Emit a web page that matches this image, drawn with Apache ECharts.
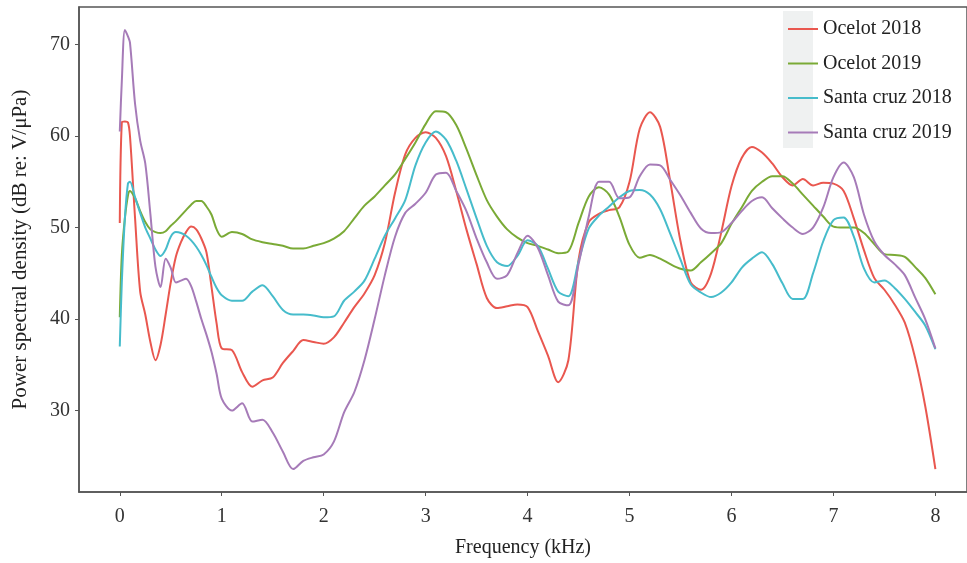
<!DOCTYPE html>
<html>
<head>
<meta charset="utf-8">
<script src="https://cdn.jsdelivr.net/npm/echarts@6/dist/echarts.min.js"></script>
<style>
  html, body { margin: 0; padding: 0; background: #fff; }
  #chart { width: 967px; height: 563px; }
</style>
</head>
<body>
<div id="chart"></div>
<script>
// frequency (kHz), denser near 0 where the peaks are sharp
const freq = [0, 0.02, 0.05, 0.08,
  0.1, 0.15, 0.2, 0.25, 0.3, 0.35, 0.4, 0.45, 0.5, 0.55, 0.6, 0.65, 0.7, 0.75, 0.8, 0.85, 0.9, 0.95, 1.0,
  1.1, 1.2, 1.3, 1.4, 1.5, 1.6, 1.7, 1.8, 1.9, 2.0,
  2.1, 2.2, 2.3, 2.4, 2.5, 2.6, 2.7, 2.8, 2.9, 3.0,
  3.1, 3.2, 3.3, 3.4, 3.5, 3.6, 3.7, 3.8, 3.9, 4.0,
  4.1, 4.2, 4.3, 4.4, 4.5, 4.6, 4.7, 4.8, 4.9, 5.0,
  5.1, 5.2, 5.3, 5.4, 5.5, 5.6, 5.7, 5.8, 5.9, 6.0,
  6.1, 6.2, 6.3, 6.4, 6.5, 6.6, 6.7, 6.8, 6.9, 7.0,
  7.1, 7.2, 7.3, 7.4, 7.5, 7.6, 7.7, 7.8, 7.9, 8.0];

const ocelot2018 = [50.5, 61.5, 61.6, 61.5,
  60.0, 51.0, 43.0, 40.5, 37.5, 35.5, 37.2, 40.5, 44.0, 46.8, 48.4, 49.5, 50.1, 49.8, 48.8, 47.3, 43.5, 39.5, 36.8,
  36.6, 34.2, 32.6, 33.3, 33.6, 35.2, 36.5, 37.7, 37.5, 37.3,
  38.0, 39.6, 41.3, 42.8, 44.8, 48.3, 53.8, 58.0, 59.8, 60.4,
  59.8, 57.8, 54.0, 49.8, 46.0, 42.3, 41.2, 41.4, 41.6, 41.3,
  38.7, 36.0, 33.1, 35.5, 46.5, 50.6, 51.5, 51.9, 52.2, 55.0,
  60.8, 62.6, 61.0, 55.0, 48.5, 44.0, 43.2, 45.0, 49.5, 54.5,
  57.6, 58.8, 58.2, 57.0, 55.5, 54.6, 55.3, 54.6, 54.9, 54.8,
  54.0, 51.0, 47.5, 44.5, 43.2, 41.6, 39.6, 35.8, 30.5, 23.6];

const ocelot2019 = [40.2, 47.0, 51.0, 53.5,
  54.0, 53.2, 51.8, 50.6, 49.8, 49.5, 49.4, 49.6, 50.2, 50.7, 51.3, 51.9, 52.5, 52.9, 52.9, 52.3, 51.4, 49.8, 49.0,
  49.5, 49.3, 48.7, 48.4, 48.2, 48.0, 47.7, 47.7, 48.0, 48.3,
  48.8, 49.6, 51.0, 52.4, 53.4, 54.6, 55.8, 57.5, 59.3, 61.3,
  62.7, 62.6, 61.2, 58.6, 55.7, 53.0, 51.2, 49.8, 48.9, 48.3,
  48.0, 47.6, 47.2, 47.4, 50.5, 53.4, 54.4, 53.6, 51.2, 48.1,
  46.7, 47.0, 46.6, 46.0, 45.5, 45.3, 46.2, 47.2, 48.3, 50.4,
  52.2, 54.0, 55.0, 55.6, 55.6, 54.8, 53.6, 52.4, 51.2, 50.1,
  50.0, 50.0, 49.4, 48.2, 47.1, 47.0, 46.8, 45.7, 44.5, 42.7];

const santaCruz2018 = [37.0, 44.0, 51.0, 54.8,
  55.0, 53.3, 51.6, 50.0, 48.8, 47.6, 46.9, 47.6, 49.0, 49.5, 49.4, 49.1, 48.6, 47.9, 47.0, 45.9, 44.6, 43.4, 42.6,
  42.0, 42.0, 43.0, 43.7, 42.5, 41.0, 40.5, 40.5, 40.4, 40.2,
  40.3, 42.0, 43.0, 44.2, 46.6, 49.1, 51.0, 53.0, 56.8, 59.3,
  60.5, 59.6, 57.3, 54.2, 51.0, 48.0, 46.2, 45.8, 46.9, 48.6,
  48.0, 45.5, 43.0, 42.5, 46.3, 49.9, 51.3, 52.3, 53.3, 54.0,
  54.1, 53.6, 52.0, 49.3, 46.5, 43.8, 42.9, 42.4, 42.9, 44.0,
  45.6, 46.6, 47.3, 46.0, 43.9, 42.2, 42.2, 45.0, 48.5, 50.8,
  51.1, 49.0, 45.5, 44.0, 44.2, 43.4, 42.2, 40.8, 39.3, 36.7];

const santaCruz2019 = [60.5, 66.0, 71.6, 70.9,
  70.2, 63.5, 59.5, 57.0, 51.5, 45.7, 43.5, 46.6, 45.6, 44.0, 44.2, 44.4, 43.6, 41.9, 40.0, 38.3, 36.4, 34.0, 31.3,
  30.0, 30.8, 28.8, 29.0, 27.6, 25.5, 23.6, 24.5, 24.9, 25.2,
  26.6, 29.8, 32.0, 35.5, 40.0, 44.8, 49.0, 51.6, 52.6, 53.8,
  55.8, 56.0, 54.0, 51.8, 48.8, 46.2, 44.4, 44.8, 47.2, 49.1,
  47.8, 44.8, 41.9, 41.5, 46.0, 51.2, 55.0, 55.0, 53.2, 53.3,
  55.6, 56.9, 56.8, 55.2, 53.5, 51.6, 49.9, 49.4, 49.5, 50.5,
  51.8, 52.9, 53.3, 52.1, 51.0, 50.0, 49.3, 50.0, 52.2, 55.5,
  57.1, 55.5, 51.4, 48.5, 47.0, 46.0, 44.8, 42.4, 40.0, 36.8];

const seriesNames = ['Ocelot 2018', 'Ocelot 2019', 'Santa cruz 2018', 'Santa cruz 2019'];
const seriesValues = [ocelot2018, ocelot2019, santaCruz2018, santaCruz2019];
const colors = ['#e9574f', '#7aaa36', '#46bccb', '#a67bb8'];

const xTicks = [0, 1, 2, 3, 4, 5, 6, 7, 8];
const yTicks = [30, 40, 50, 60, 70];

const serif = '"Liberation Serif", "DejaVu Serif", serif';

const chart = echarts.init(document.getElementById('chart'), null, { renderer: 'canvas' });

chart.setOption({
  backgroundColor: '#ffffff',
  animation: false,
  color: colors,
  grid: {
    left: 79, right: -1, top: 7, bottom: 66,
    show: true, borderColor: '#555', borderWidth: 1.5,
    containLabel: false
  },
  // grey boxes behind the legend keys (ggplot style)
  graphic: [{
    type: 'rect',
    shape: { x: 783, y: 11, width: 30, height: 137 },
    style: { fill: '#eff1f1' },
    z: 0
  }],
  legend: {
    orient: 'vertical',
    left: 783, top: 14,
    itemWidth: 30, itemHeight: 20,
    itemGap: 14.5,
    icon: 'path://M0,9 L30,9 L30,11 L0,11 Z',
    textStyle: { fontFamily: serif, fontSize: 20, color: '#222' },
    data: seriesNames
  },
  xAxis: {
    type: 'value',
    min: -0.4, max: 8.31,
    name: 'Frequency (kHz)',
    nameLocation: 'middle',
    nameGap: 46,
    nameTextStyle: { fontFamily: serif, fontSize: 20, color: '#222' },
    splitLine: { show: false },
    axisLine: { show: true, onZero: false, lineStyle: { color: '#555', width: 1.5 } },
    axisTick: { show: true, length: 4, customValues: xTicks, lineStyle: { color: '#555' } },
    axisLabel: { customValues: xTicks, fontFamily: serif, fontSize: 20, color: '#333', margin: 15 }
  },
  yAxis: {
    type: 'value',
    min: 21.1, max: 74.1,
    name: 'Power spectral density (dB re: V/μPa)',
    nameLocation: 'middle',
    nameGap: 48,
    nameTextStyle: { fontFamily: serif, fontSize: 21, color: '#222' },
    splitLine: { show: false },
    axisLine: { show: true, onZero: false, lineStyle: { color: '#555', width: 1.5 } },
    axisTick: { show: true, length: 4, customValues: yTicks, lineStyle: { color: '#555' } },
    axisLabel: { customValues: yTicks, fontFamily: serif, fontSize: 20, color: '#333', margin: 9 }
  },
  series: seriesNames.map((name, i) => ({
    name: name,
    type: 'line',
    smooth: 0.3,
    symbol: 'none',
    lineStyle: { width: 2 },
    z: 3,
    data: freq.map((f, j) => [f, seriesValues[i][j]])
  }))
});
</script>
</body>
</html>
